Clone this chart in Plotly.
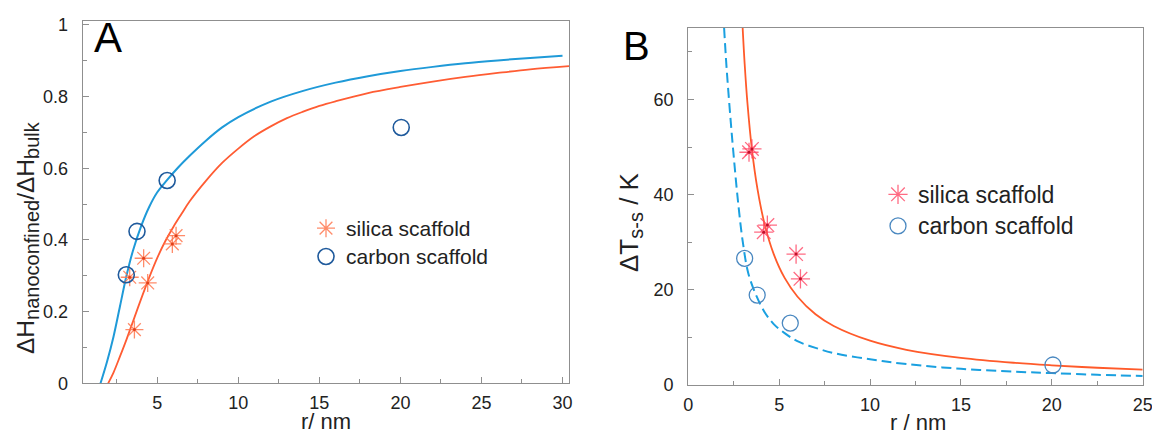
import plotly.graph_objects as go

# ---------------- Panel A data ----------------
a_silica_r = [3.30, 3.59, 4.16, 4.41, 5.93, 6.16]
a_silica_h = [0.296, 0.150, 0.349, 0.280, 0.389, 0.412]
a_carbon_r = [3.09, 3.75, 5.61, 20.05]
a_carbon_h = [0.303, 0.424, 0.566, 0.714]

a_fit_carbon_r = [1.50, 1.9, 2.3, 2.7, 3.1, 3.5, 4.0, 4.5, 5.0, 5.6, 6.3, 7.0, 8.0, 9.0, 10, 12, 14, 16, 18, 20, 22, 24, 26, 28, 30]
a_fit_carbon_h = [0.0, 0.06, 0.13, 0.215, 0.30, 0.37, 0.438, 0.492, 0.533, 0.567, 0.603, 0.635, 0.677, 0.714, 0.743, 0.786, 0.816, 0.839, 0.857, 0.8715, 0.883, 0.893, 0.901, 0.908, 0.914]

a_fit_silica_r = [1.97, 2.3, 2.7, 3.1, 3.5, 4.0, 4.5, 5.0, 5.5, 6.0, 6.5, 7.0, 8.0, 9.0, 10, 11, 12, 13, 14, 15, 16, 18, 20, 22, 24, 26, 28, 30.4]
a_fit_silica_h = [0.0, 0.03, 0.075, 0.122, 0.172, 0.235, 0.295, 0.35, 0.397, 0.437, 0.473, 0.508, 0.565, 0.615, 0.655, 0.69, 0.717, 0.74, 0.758, 0.774, 0.787, 0.81, 0.827, 0.842, 0.855, 0.866, 0.876, 0.885]

# ---------------- Panel B data ----------------
b_silica_r = [3.34, 3.50, 4.15, 4.35, 5.93, 6.17]
b_silica_dt = [48.9, 49.6, 32.1, 33.6, 27.5, 22.3]
b_carbon_r = [3.10, 3.79, 5.61, 20.06]
b_carbon_dt = [26.6, 18.9, 13.0, 4.2]

b_fit_silica_r = [2.99, 3.1, 3.25, 3.5, 3.8, 4.2, 4.7, 5.3, 6.0, 7.0, 8.0, 10, 12, 15, 18, 20, 22.5, 25]
b_fit_silica_dt = [75, 67.5, 59.4, 49.5, 41.3, 33.75, 27.5, 22.5, 18.6, 14.85, 12.4, 9.3, 7.4, 5.7, 4.64, 4.13, 3.62, 3.23]

b_fit_carbon_r = [1.97, 2.1, 2.3, 2.5, 2.75, 3.0, 3.3, 3.76, 4.2, 4.7, 5.3, 6.0, 7.0, 8.0, 10, 12, 15, 18, 20, 22.5, 25]
b_fit_carbon_dt = [75, 67, 57, 48, 38, 30, 23.5, 18.6, 15.3, 12.8, 10.9, 9.2, 7.8, 6.7, 5.4, 4.4, 3.4, 2.8, 2.5, 2.15, 1.9]

legend_labels = ["silica scaffold", "carbon scaffold"]

FONT = "Liberation Sans, Arial, sans-serif"
TXT = "#222222"
AX = "#8f8f8f"


def sized(label, px):
    return f"<span style='font-size:{px}px'>{label}</span>"


fig = go.Figure()

# Panel A curves
fig.add_trace(go.Scatter(x=a_fit_carbon_r, y=a_fit_carbon_h, mode="lines", line=dict(color="#1f9ad8", width=2, shape="spline"),
                         showlegend=False, xaxis="x", yaxis="y"))
fig.add_trace(go.Scatter(x=a_fit_silica_r, y=a_fit_silica_h, mode="lines", line=dict(color="#ff5c33", width=1.8, shape="spline"),
                         showlegend=False, xaxis="x", yaxis="y"))
# Panel A markers
fig.add_trace(go.Scatter(x=a_silica_r, y=a_silica_h, mode="markers", name=sized(legend_labels[0], 21),
                         marker=dict(symbol="asterisk-open", size=15, color="rgba(255,120,80,0.85)",
                                     line=dict(color="rgba(255,120,80,0.85)", width=1.3)),
                         legend="legend", legendgroup="a1", xaxis="x", yaxis="y"))
fig.add_trace(go.Scatter(x=a_silica_r, y=a_silica_h, mode="markers", showlegend=False,
                         marker=dict(symbol="circle", size=3, color="#e0401a"), xaxis="x", yaxis="y"))
fig.add_trace(go.Scatter(x=a_carbon_r, y=a_carbon_h, mode="markers", name=sized(legend_labels[1], 21),
                         marker=dict(symbol="circle-open", size=16, color="#1f5a9c", line=dict(color="#1f5a9c", width=1.6)),
                         legend="legend", legendgroup="a2", xaxis="x", yaxis="y"))

# Panel B curves
fig.add_trace(go.Scatter(x=b_fit_silica_r, y=b_fit_silica_dt, mode="lines", line=dict(color="#ff5a2a", width=1.8, shape="spline"),
                         showlegend=False, xaxis="x2", yaxis="y2"))
fig.add_trace(go.Scatter(x=b_fit_carbon_r, y=b_fit_carbon_dt, mode="lines",
                         line=dict(color="#1aa0e0", width=2, dash="10px,5px", shape="spline"),
                         showlegend=False, xaxis="x2", yaxis="y2"))
# Panel B markers
fig.add_trace(go.Scatter(x=b_silica_r, y=b_silica_dt, mode="markers", name=sized(legend_labels[0], 23),
                         marker=dict(symbol="asterisk-open", size=16, color="rgba(255,70,100,0.8)",
                                     line=dict(color="rgba(255,70,100,0.8)", width=1.3)),
                         legend="legend2", legendgroup="b1", xaxis="x2", yaxis="y2"))
fig.add_trace(go.Scatter(x=b_silica_r, y=b_silica_dt, mode="markers", showlegend=False,
                         marker=dict(symbol="circle", size=3, color="#c0102a"), xaxis="x2", yaxis="y2"))
fig.add_trace(go.Scatter(x=b_carbon_r, y=b_carbon_dt, mode="markers", name=sized(legend_labels[1], 23),
                         marker=dict(symbol="circle-open", size=16, color="#4a88c0", line=dict(color="#4a88c0", width=1.3)),
                         legend="legend2", legendgroup="b2", xaxis="x2", yaxis="y2"))

W, H = 1152, 431

def px_x(p):
    return p / W

def px_y(p):
    return (H - p) / H

common = dict(showgrid=False, zeroline=False, showline=True, mirror=True, linecolor=AX, linewidth=1.2,
              ticks="inside", ticklen=6, tickcolor=AX, tickwidth=1.2, ticklabeloverflow="allow",
              tickfont=dict(family=FONT, size=18, color=TXT), automargin=False)

fig.update_layout(
    width=W, height=H, margin=dict(l=0, r=0, t=0, b=0),
    paper_bgcolor="white", plot_bgcolor="white",
    font=dict(family=FONT, color=TXT),
    xaxis=dict(domain=[px_x(82.7), px_x(569)], range=[0.4, 30.4], tick0=0, dtick=5, anchor="y",
               minor=dict(dtick=2.5, tick0=0, ticks="inside", ticklen=4, tickcolor=AX),
               ticklabelstandoff=3, **common),
    yaxis=dict(domain=[px_y(383.3), px_y(21)], range=[0, 1.011], tick0=0, dtick=0.2, anchor="x",
               minor=dict(dtick=0.1, tick0=0, ticks="inside", ticklen=4, tickcolor=AX),
               ticklabelstandoff=10, **common),
    xaxis2=dict(domain=[px_x(688.3), px_x(1142.7)], range=[0, 25], tick0=0, dtick=5, anchor="y2",
                minor=dict(dtick=2.5, tick0=0, ticks="inside", ticklen=4, tickcolor=AX),
                ticklabelstandoff=3, **common),
    yaxis2=dict(domain=[px_y(385), px_y(28)], range=[0, 75], tick0=0, dtick=20, anchor="x2",
                minor=dict(dtick=10, tick0=0, ticks="inside", ticklen=4, tickcolor=AX),
                ticklabelstandoff=10, **common),
    legend=dict(x=px_x(306), y=px_y(209), xanchor="left", yanchor="top", bgcolor="rgba(0,0,0,0)",
                font=dict(family=FONT, size=19.5, color=TXT), tracegroupgap=0, traceorder="grouped"),
    legend2=dict(x=px_x(878), y=px_y(173.5), xanchor="left", yanchor="top", bgcolor="rgba(0,0,0,0)",
                 font=dict(family=FONT, size=22, color=TXT), tracegroupgap=0, traceorder="grouped"),
)

annotations = [
    dict(text="A", x=px_x(108), y=px_y(38), xref="paper", yref="paper", showarrow=False,
         font=dict(family=FONT, size=42, color="#000"), xanchor="center", yanchor="middle"),
    dict(text="B", x=px_x(636), y=px_y(46), xref="paper", yref="paper", showarrow=False,
         font=dict(family=FONT, size=40, color="#000"), xanchor="center", yanchor="middle"),
    dict(text="ΔH<sub><span style='font-size:20px'>nanoconfined</span></sub>/ΔH<sub><span style='font-size:20px'>bulk</span></sub>",
         x=px_x(27), y=px_y(238), xref="paper", yref="paper",
         showarrow=False, textangle=-90, font=dict(family=FONT, size=24.5, color=TXT), xanchor="center", yanchor="middle"),
    dict(text="ΔT<sub><span style='font-size:20px'>s-s</span></sub> / K", x=px_x(630), y=px_y(222), xref="paper", yref="paper",
         showarrow=False, textangle=-90, font=dict(family=FONT, size=26, color=TXT), xanchor="center", yanchor="middle"),
    dict(text="r/ nm", x=px_x(326), y=px_y(421), xref="paper", yref="paper", showarrow=False,
         font=dict(family=FONT, size=22, color=TXT), xanchor="center", yanchor="middle"),
    dict(text="r / nm", x=px_x(918), y=px_y(422), xref="paper", yref="paper", showarrow=False,
         font=dict(family=FONT, size=22, color=TXT), xanchor="center", yanchor="middle"),
]
fig.update_layout(annotations=annotations)

fig.write_html("out.html")
